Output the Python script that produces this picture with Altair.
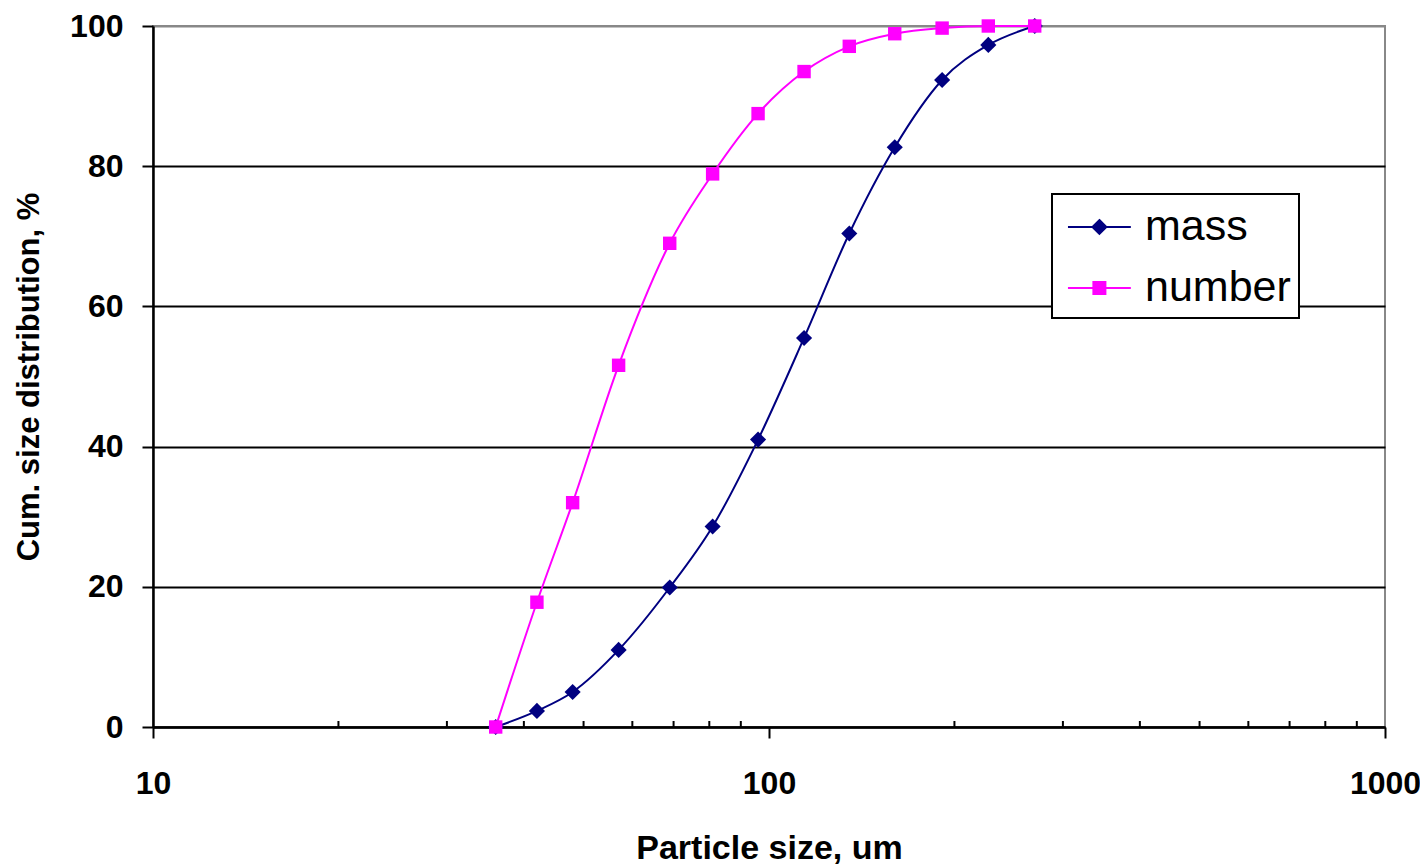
import altair as alt
import pandas as pd

# Particle sizes (um)
sizes = [36, 42, 48, 57, 69, 81, 96, 114, 135, 160, 191, 227, 270]
mass = [0, 2.3, 5.0, 11.0, 19.9, 28.6, 41.0, 55.5, 70.4, 82.7, 92.3, 97.3, 100]
number = [0, 17.8, 32.0, 51.6, 69.0, 78.9, 87.5, 93.5, 97.1, 98.9, 99.7, 100, 100]
series_names = ["mass", "number"]
series_colors = ["#000080", "#FF00FF"]
minor_ticks = [20, 30, 40, 50, 60, 70, 80, 90, 200, 300, 400, 500, 600, 700, 800, 900]
x_ticks = [10, 100, 1000]
y_ticks = [0, 20, 40, 60, 80, 100]

rows = []
for s, m in zip(sizes, mass):
    rows.append({"size": s, "value": m, "series": "mass"})
for s, n in zip(sizes, number):
    rows.append({"size": s, "value": n, "series": "number"})
df = pd.DataFrame(rows)
minor_df = pd.DataFrame({"size": minor_ticks})

W, H = 1232, 701
FONT = "Liberation Sans"

x_enc = alt.X(
    "size:Q",
    scale=alt.Scale(type="log", domain=[10, 1000], nice=False),
    axis=alt.Axis(
        values=x_ticks, format="d", title="Particle size, um",
        labelFont=FONT, labelFontSize=32, labelFontWeight="bold", labelColor="black",
        titleFont=FONT, titleFontSize=34, titleFontWeight="bold", titleColor="black",
        titlePadding=32, labelPadding=30,
        domainColor="black", domainWidth=2.5, tickColor="black", tickWidth=2, tickSize=11,
        grid=False, labelFlush=False, labelOverlap=False,
    ),
)
y_enc = alt.Y(
    "value:Q",
    scale=alt.Scale(domain=[0, 100], nice=False),
    axis=alt.Axis(
        values=y_ticks, title="Cum. size distribution, %",
        labelFont=FONT, labelFontSize=32, labelFontWeight="bold", labelColor="black",
        titleFont=FONT, titleFontSize=31, titleFontWeight="bold", titleColor="black",
        titlePadding=24, labelPadding=19,
        domainColor="black", domainWidth=2.5, tickColor="black", tickWidth=2, tickSize=11,
        grid=True, gridWidth=2,
        gridColor=alt.condition("datum.value === 100", alt.value("#888888"), alt.value("black")),
        labelFlush=False,
    ),
)

minor = alt.Chart(minor_df).mark_rule(color="black", strokeWidth=2).encode(
    x=alt.X("size:Q"),
    y=alt.value(H - 6),
    y2=alt.value(H),
)

layers = [minor]
marker_shapes = {"mass": ("diamond", 260), "number": ("square", 180)}
for i, (name, col) in enumerate(zip(series_names, series_colors)):
    base = alt.Chart(df).transform_filter(f"datum.series === '{name}'")
    ln = base.mark_line(interpolate="monotone", strokeWidth=2, color=col).encode(
        x=x_enc if i == 0 else alt.X("size:Q"),
        y=y_enc if i == 0 else alt.Y("value:Q"),
    )
    shp, sz = marker_shapes[name]
    pt = base.mark_point(shape=shp, filled=True, opacity=1, size=sz, color=col).encode(
        x="size:Q", y="value:Q",
    )
    layers += [ln, pt]

legend_paths = [
    "M-0.71,0H1.91M0.6,-0.29L0.89,0L0.6,0.29L0.31,0Z",
    "M-0.71,0H1.91M0.35,-0.25H0.85V0.25H0.35Z",
]
leg = alt.Legend(
    title=None, orient="none", legendX=899, legendY=168,
    labelFont=FONT, labelFontSize=43, labelColor="black", labelOffset=35,
    symbolSize=48 * 48, symbolStrokeWidth=2, symbolOpacity=1,
    padding=8, rowPadding=14, strokeColor="black", fillColor="white",
    cornerRadius=0,
)
legend_layer = alt.Chart(df).mark_point(filled=True, opacity=0, strokeWidth=2).encode(
    x="size:Q", y="value:Q",
    fill=alt.Fill("series:N", scale=alt.Scale(domain=series_names, range=series_colors), legend=leg),
    stroke=alt.Stroke("series:N", scale=alt.Scale(domain=series_names, range=series_colors), legend=leg),
    shape=alt.Shape("series:N", scale=alt.Scale(domain=series_names, range=legend_paths), legend=leg),
)
layers.append(legend_layer)

chart = alt.layer(*layers).properties(
    width=W, height=H,
    autosize=alt.AutoSizeParams(type="none"),
    padding={"left": 145, "top": 18, "right": 35, "bottom": 140},
    background="white",
).configure_view(
    stroke="#888888", strokeWidth=2
).configure_legend(strokeWidth=2)

chart.save("out.html", embed_options={"renderer": "svg", "actions": False})
